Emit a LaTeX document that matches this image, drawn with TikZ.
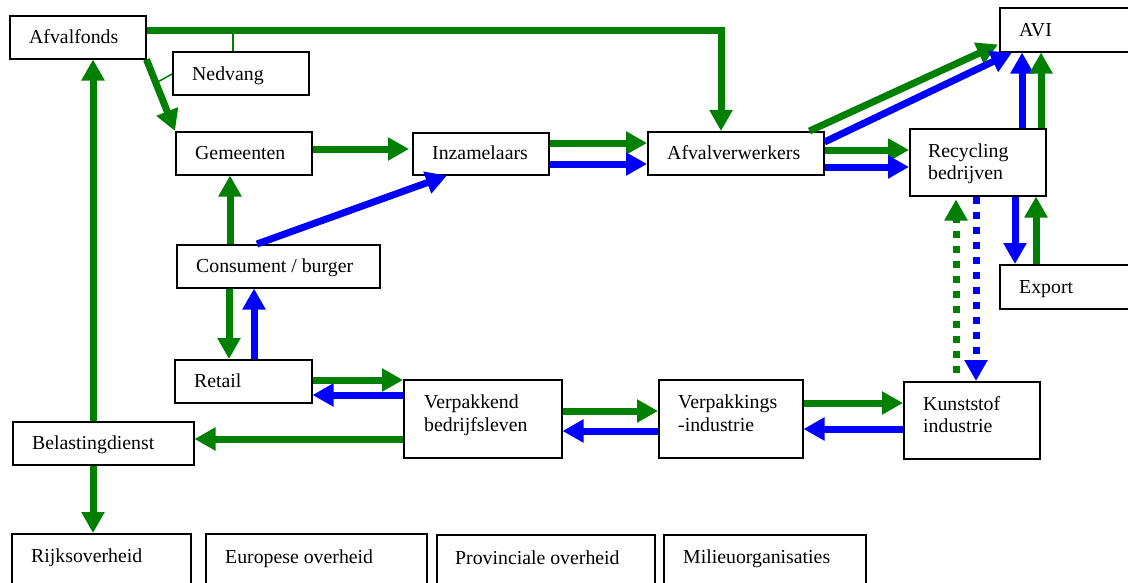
\documentclass[tikz,border=0pt]{standalone}
\usepackage{fontspec}
\setmainfont{Liberation Serif}
\usetikzlibrary{arrows.meta,calc}
\definecolor{fgreen}{RGB}{0,128,0}
\definecolor{fblue}{RGB}{0,0,255}
\begin{document}
\begin{tikzpicture}[x=1pt,y=-1pt,
  box/.style={draw=black, line width=1.5pt, anchor=north west, inner sep=0pt},
  lbl/.style={anchor=base west, inner sep=0pt, font=\fontsize{19.8}{22}\selectfont},
  flow/.style={line width=7pt, -{Triangle[length=21pt,width=22pt]}},
  gflow/.style={flow, color=fgreen},
  bflow/.style={flow, color=fblue},
  gdot/.style={gflow, dash pattern=on 7pt off 8pt},
  bdot/.style={bflow, dash pattern=on 7pt off 8pt},
  thin/.style={draw=fgreen, line width=1.5pt}]
\useasboundingbox (0,0) rectangle (1128,582);
\clip (0,0) rectangle (1128,582);
\fill[white] (0,0) rectangle (1128,582);

% boxes
\node[box, minimum width=136pt, minimum height=43pt] (afv) at (9,15) {};
\node[box, minimum width=136pt, minimum height=43pt] (ned) at (172,51) {};
\node[box, minimum width=136pt, minimum height=43pt] (gem) at (175,131) {};
\node[box, minimum width=136pt, minimum height=42pt] (inz) at (412,132) {};
\node[box, minimum width=176pt, minimum height=43pt] (avw) at (647,131) {};
\node[box, minimum width=140pt, minimum height=44pt] (avi) at (999,7) {};
\node[box, minimum width=136pt, minimum height=67pt] (rec) at (909,128) {};
\node[box, minimum width=140pt, minimum height=44pt] (exp) at (999,264) {};
\node[box, minimum width=203pt, minimum height=43pt] (con) at (176,244) {};
\node[box, minimum width=137pt, minimum height=43pt] (ret) at (174,359) {};
\node[box, minimum width=158pt, minimum height=78pt] (vb) at (403,379) {};
\node[box, minimum width=144pt, minimum height=78pt] (vi) at (658,379) {};
\node[box, minimum width=136pt, minimum height=77pt] (kun) at (903,381) {};
\node[box, minimum width=181pt, minimum height=43pt] (bel) at (12,421) {};
\node[box, minimum width=179pt, minimum height=60pt] (rijk) at (11,533) {};
\node[box, minimum width=221pt, minimum height=60pt] (eur) at (205,533) {};
\node[box, minimum width=218pt, minimum height=60pt] (prov) at (436,534) {};
\node[box, minimum width=202pt, minimum height=60pt] (mil) at (663,534) {};

% labels
\node[lbl] (tafv) at (29,43) {Afvalfonds};
\node[lbl] (tned) at (192,80) {Nedvang};
\node[lbl] (tgem) at (195,159) {Gemeenten};
\node[lbl] (tinz) at (432,159) {Inzamelaars};
\node[lbl] (tavw) at (667,159) {Afvalverwerkers};
\node[lbl] (tavi) at (1019,36) {AVI};
\node[lbl] (trec1) at (928,157) {Recycling};
\node[lbl] (trec2) at (928,179) {bedrijven};
\node[lbl] (texp) at (1019,293) {Export};
\node[lbl] (tcon) at (196,272) {Consument / burger};
\node[lbl] (tret) at (194,387) {Retail};
\node[lbl] (tvb1) at (424,408) {Verpakkend};
\node[lbl] (tvb2) at (424,431) {bedrijfsleven};
\node[lbl] (tvi1) at (678,408) {Verpakkings};
\node[lbl] (tvi2) at (678,431) {-industrie};
\node[lbl] (tkun1) at (923,410) {Kunststof};
\node[lbl] (tkun2) at (923,432) {industrie};
\node[lbl] (tbel) at (32,449) {Belastingdienst};
\node[lbl] (trijk) at (31,562) {Rijksoverheid};
\node[lbl] (teur) at (225,563) {Europese overheid};
\node[lbl] (tprov) at (455,564) {Provinciale overheid};
\node[lbl] (tmil) at (683,563) {Milieuorganisaties};

% money flows (green) and material flows (blue)
\draw[gflow, line join=miter] (afv.east |- 0,30) -| (avw.north -| 721,0);
\draw[gflow] (afv.south east) -- (gem.north west);
\coordinate (j1) at (233,30);
\coordinate (j2) at ($(afv.south east)!0.31!(gem.north west)+(3,0)$);
\draw[thin] (ned.north -| j1) -- (j1);
\draw[thin] (ned.west |- 0,74) -- (j2);

\draw[gflow] (bel.north -| 93,0) -- (afv.south -| 93,0);
\draw[gflow] (bel.south -| 93,0) -- (rijk.north -| 93,0);
\draw[gflow] (vb.west |- 0,439) -- (bel.east |- 0,439);

\draw[gflow] (gem.east |- 0,149) -- ([xshift=-3pt]inz.west |- 0,149);
\draw[gflow] (con.north -| 230,0) -- (gem.south -| 230,0);
\draw[bflow] (con.north -| 257,0) -- (inz.south -| 447,0);
\draw[gflow] (con.south -| 229,0) -- (ret.north -| 229,0);
\draw[bflow] (ret.north -| 254,0) -- (con.south -| 254,0);

\draw[gflow] (ret.east |- 0,380) -- (vb.west |- 0,380);
\draw[bflow] (vb.west |- 0,395) -- (ret.east |- 0,395);
\draw[gflow] (vb.east |- 0,411) -- (vi.west |- 0,411);
\draw[bflow] (vi.west |- 0,431) -- (vb.east |- 0,431);
\draw[gflow] (vi.east |- 0,403) -- (kun.west |- 0,403);
\draw[bflow] (kun.west |- 0,429) -- (vi.east |- 0,429);

\draw[gflow] (inz.east |- 0,143) -- (avw.west |- 0,143);
\draw[bflow] (inz.east |- 0,164) -- (avw.west |- 0,164);
\draw[gflow] (avw.east |- 0,150) -- (rec.west |- 0,150);
\draw[bflow] (avw.east |- 0,167) -- (rec.west |- 0,167);

\draw[gflow] ($(avw.north east)+(-15,0)$) -- ($(avi.south west)+(-1,-8)$);
\draw[bflow] ($(avw.north east)+(0,11)$) -- ($(avi.south west)+(13,0)$);
\draw[bflow] (rec.north -| 1022,0) -- (avi.south -| 1022,0);
\draw[gflow] (rec.north -| 1041,0) -- (avi.south -| 1041,0);
\draw[bflow] (rec.south -| 1015,0) -- (exp.north -| 1015,0);
\draw[gflow] (exp.north -| 1036,0) -- (rec.south -| 1036,0);

\draw[gdot] ($(kun.north -| 956,0)+(0,-8)$) -- ($(rec.south -| 956,0)+(0,3)$);
\draw[bdot] (rec.south -| 976,0) -- (kun.north -| 976,0);
\end{tikzpicture}
\end{document}
